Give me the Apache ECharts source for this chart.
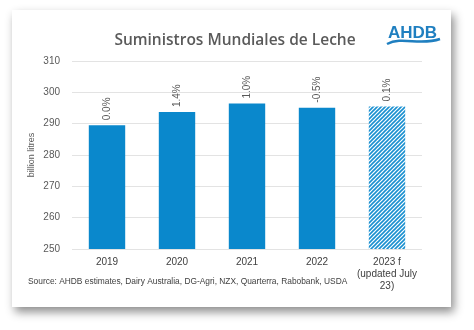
<!DOCTYPE html>
<html><head><meta charset="utf-8">
<script src="https://cdn.jsdelivr.net/npm/echarts@6/dist/echarts.min.js"></script>
<style>
html,body{margin:0;padding:0;background:#fff;}
#card{position:absolute;left:12px;top:10px;width:439px;height:297px;background:#fff;box-shadow:3px 5px 9px rgba(0,0,0,0.45);}
#c{position:absolute;left:0;top:0;width:474px;height:330px;}
</style></head><body>
<div id="card"></div>
<div id="c"></div>
<script>
const categories = ['2019','2020','2021','2022','2023 f\n(updated July\n23)'];
const values = [289.5, 293.7, 296.4, 295.1, 295.5];
const growthLabels = ['0.0%','1.4%','1.0%','-0.5%','0.1%'];
const yTicks = {min:250, max:310, interval:10};

const pc = document.createElement('canvas');
pc.width = 4; pc.height = 4;
const g = pc.getContext('2d');
g.fillStyle = '#ffffff'; g.fillRect(0,0,4,4);
g.strokeStyle = '#1a90d0'; g.lineWidth = 1.6;
g.beginPath(); g.moveTo(-1,5); g.lineTo(5,-1); g.stroke();
g.beginPath(); g.moveTo(-1,1); g.lineTo(1,-1); g.stroke();
g.beginPath(); g.moveTo(3,5); g.lineTo(5,3); g.stroke();

const chart = echarts.init(document.getElementById('c'));
const data = values.map((v,i)=>({
  value:v,
  itemStyle: i===4 ? {color:{image:pc, repeat:'repeat'}} : {color:'#0a88cc'}
}));
chart.setOption({
  animation:false,
  grid:{left:72,right:52,top:61,bottom:81},
  title:{text:'Suministros Mundiales de Leche',left:230,textAlign:'center',top:28,
    textStyle:{fontFamily:'Open Sans',fontSize:15.5,fontWeight:600,color:'#5a5a5a'}},
  xAxis:{type:'category',data:categories,
    axisLine:{show:false},axisTick:{show:false},
    axisLabel:{interval:0,color:'#404040',fontFamily:'Liberation Sans',fontSize:10,lineHeight:12,margin:7}},
  yAxis:{type:'value',min:yTicks.min,max:yTicks.max,interval:yTicks.interval,
    axisLine:{show:false},axisTick:{show:false},
    axisLabel:{color:'#595959',fontFamily:'Liberation Sans',fontSize:10,margin:12},
    splitLine:{lineStyle:{color:'#e3e3e3',width:1}}},
  series:[{type:'bar',data:data,barWidth:'52%',
    label:{show:true,position:'top',rotate:90,align:'left',verticalAlign:'middle',distance:5,
      color:'#595959',fontFamily:'Liberation Sans',fontSize:10,
      formatter:p=>growthLabels[p.dataIndex]}}],
  graphic:[
    {type:'text',x:32,y:155,rotation:Math.PI/2,style:{text:'billion litres',fill:'#595959',
      font:'9px "Liberation Sans"',align:'center',verticalAlign:'middle'}},
    {type:'text',left:28,top:278,style:{text:'Source: AHDB estimates, Dairy Australia, DG-Agri, NZX, Quarterra, Rabobank, USDA',
      fill:'#404040',font:'8.4px "Liberation Sans"'}},
    {type:'text',left:388,top:25,style:{text:'AHDB',fill:'#1f7fc0',font:'bold 17px "Liberation Sans"'}},
    {type:'bezierCurve',shape:{x1:387,y1:44,cpx1:402,cpy1:36,cpx2:420,cpy2:46,x2:440,y2:39},
      style:{stroke:'#1f7fc0',lineWidth:2.5,fill:null}}
  ]
});
</script></body></html>
